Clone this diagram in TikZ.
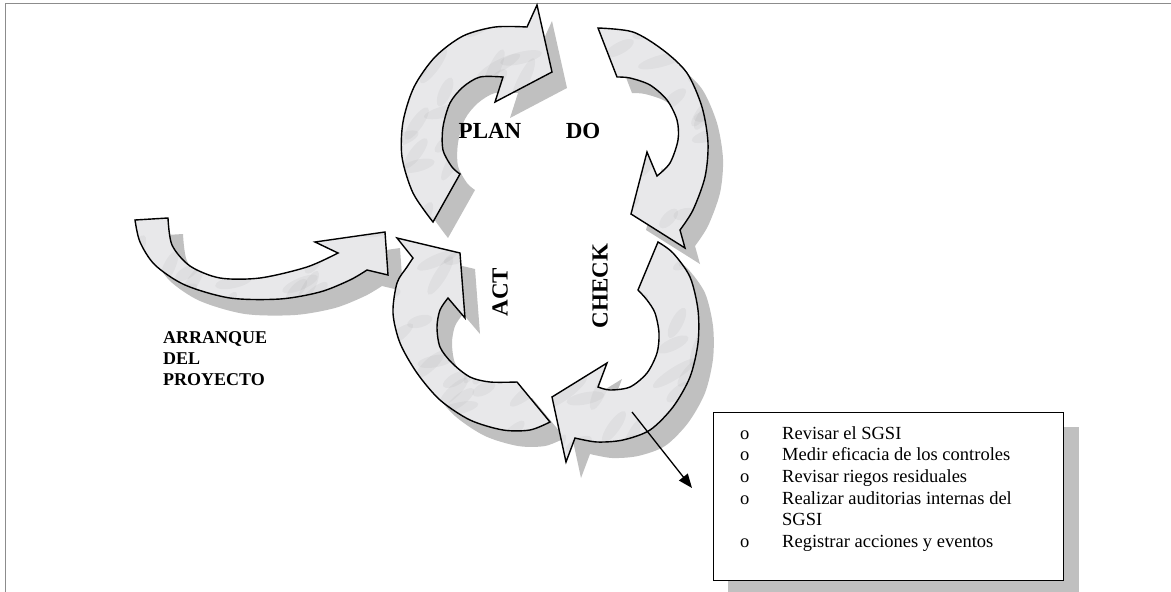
\documentclass[tikz,border=0pt]{standalone}
\usepackage{fontspec}
\setmainfont{Liberation Serif}
\usetikzlibrary{arrows.meta}
\definecolor{marble}{RGB}{232,232,234}
\definecolor{shadowgray}{RGB}{192,192,192}
\definecolor{framegray}{RGB}{140,140,140}
\def\planpath{(460,174) -- (433,222) -- plot[smooth] coordinates {(433,222) (413,193) (402,157) (403,122) (414,87) (435,57) (463,36) (495,27) (527,27)} -- (537,5) -- (552,72) -- (495,102) -- (503,77) -- plot[smooth] coordinates {(503,77) (480,77) (463,87) (450,103) (443,127) (443,150) (452,167) (460,174)} -- cycle}
\def\dopath{(617,77) -- (598,28) -- plot[smooth] coordinates {(598,28) (633,32) (663,50) (687,73) (702,107) (708,143) (705,177) (693,210) (680,230)} -- (685,248) -- (631,214) -- (647,152) -- (657,176) -- plot[smooth] coordinates {(657,176) (670,163) (678,140) (677,120) (667,100) (650,85) (630,78) (617,77)} -- cycle}
\def\checkpath{(638,290) -- (658,242) -- plot[smooth] coordinates {(658,242) (673,253) (690,277) (698,310) (698,343) (690,377) (673,407) (650,430) (623,440) (597,442) (575,438)} -- (566,462) -- (552,397) -- (607,363) -- (598,387) -- plot[smooth] coordinates {(598,387) (610,390) (630,387) (647,373) (657,353) (659,333) (655,313) (647,300) (638,290)} -- cycle}
\def\actpath{(517,382) -- (550,422) -- plot[smooth] coordinates {(550,422) (530,430) (503,430) (470,420) (440,400) (417,373) (400,343) (393,313) (397,283) (407,267) (413,258)} -- (397,238) -- (460,253) -- (465,318) -- (448,298) -- plot[smooth] coordinates {(448,298) (440,310) (437,327) (440,347) (452,363) (470,377) (490,382) (517,382)} -- cycle}
\def\startpath{(168,218) -- (135,220) -- plot[smooth] coordinates {(135,220) (140,242) (155,265) (185,285) (230,298) (280,299) (320,292) (350,280) (367,270)} -- (388,275) -- (385,232) -- (315,242) -- (338,253) -- plot[smooth] coordinates {(338,253) (307,267) (260,278) (220,278) (190,266) (172,245) (168,218)} -- cycle}
\begin{document}
\begin{tikzpicture}[x=1pt,y=-1pt,
  outline/.style={draw=black, line width=1.4pt, line join=miter},
  shad/.style={fill=shadowgray, shift={(15,16)}},
  streak/.style={fill=black, opacity=0.035},
  lbl/.style={font=\bfseries\fontsize{23}{27}\selectfont, inner sep=0},
  start/.style={font=\bfseries\fontsize{18}{21}\selectfont, inner sep=0, anchor=base west},
  itm/.style={font=\fontsize{18.5}{21.7}\selectfont, inner sep=0, anchor=base west}]
\useasboundingbox (0,0) rectangle (1171,592);
% frame
\draw[framegray, line width=1.5pt] (5.5,592) -- (5.5,3.5) -- (1171,3.5);
% shadows
\fill[shad] \startpath;
\fill[shad] \planpath;
\fill[shad] \dopath;
\fill[shad] \checkpath;
\fill[shad] \actpath;
% marble fill of the arrows
\begin{scope}
\clip \startpath \planpath \dopath \checkpath \actpath;
\fill[marble] (100,0) rectangle (720,480);
\pgfmathsetseed{11}
\foreach \k in {1,...,260}{
  \pgfmathsetmacro\cx{110+610*rnd}
  \pgfmathsetmacro\cy{470*rnd}
  \pgfmathsetmacro\ang{10+60*rnd}
  \pgfmathsetmacro\rr{12+14*rnd}
  \fill[streak, rotate around={\ang:(\cx,\cy)}] (\cx,\cy) ellipse [x radius=\rr, y radius=6];
}
\end{scope}
% outlines
\path[outline] \startpath;
\path[outline] \planpath;
\path[outline] \dopath;
\path[outline] \checkpath;
\path[outline] \actpath;
% labels
\node[lbl, anchor=base] (plan) at (490,138) {PLAN};
\node[lbl, anchor=base] (do) at (583,138) {DO};
\node[lbl, rotate=90] (act) at (500,292) {ACT};
\node[lbl, rotate=90] (check) at (600,286) {CHECK};
\node[start] (arr1) at (163,343) {ARRANQUE};
\node[start] (arr2) at (163,364) {DEL};
\node[start] (arr3) at (163,385) {PROYECTO};
% box
\fill[shadowgray] (728,427) rectangle (1079,592);
\node[draw, line width=1.4pt, fill=white, minimum width=350pt, minimum height=168pt, anchor=north west, inner sep=0] (box) at (713,412) {};
\node[itm] (b1) at (740,439) {o};
\node[itm] (t1) at (782,439) {Revisar el SGSI};
\node[itm] (b2) at (740,460.7) {o};
\node[itm] (t2) at (782,460.7) {Medir eficacia de los controles};
\node[itm] (b3) at (740,482.4) {o};
\node[itm] (t3) at (782,482.4) {Revisar riegos residuales};
\node[itm] (b4) at (740,504.1) {o};
\node[itm] (t4) at (782,504.1) {Realizar auditorias internas del};
\node[itm] (t4b) at (782,525.8) {SGSI};
\node[itm] (b5) at (740,547.5) {o};
\node[itm] (t5) at (782,547.5) {Registrar acciones y eventos};
% connector
\coordinate (chkpt) at (632,412);
\coordinate (boxarr) at (692,488);
\draw[line width=1.3pt, -{Triangle[length=14pt,width=11pt]}] (chkpt) -- (boxarr);
\end{tikzpicture}
\end{document}
